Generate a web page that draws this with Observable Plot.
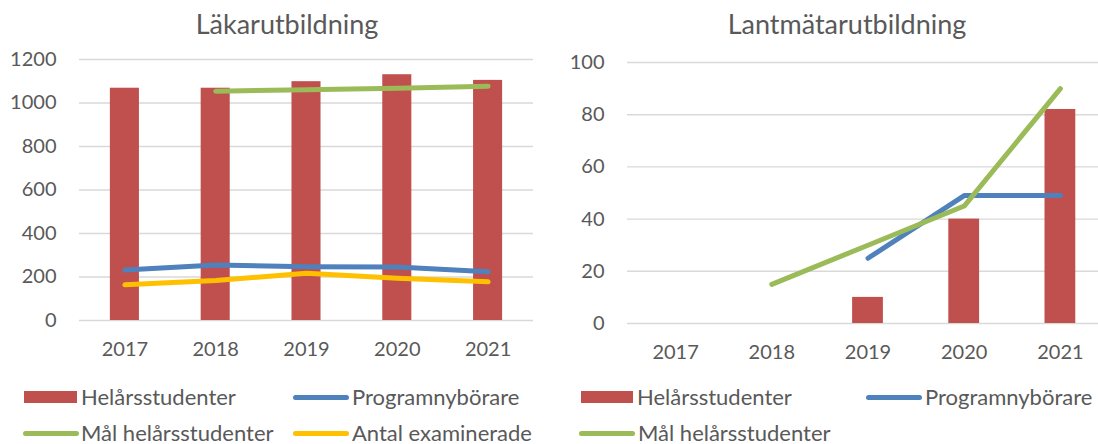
<!DOCTYPE html>
<html>
<head>
<meta charset="utf-8">
<script src="https://cdn.jsdelivr.net/npm/d3@7"></script>
<script src="https://cdn.jsdelivr.net/npm/@observablehq/plot@0.6"></script>
<style>
  html, body { margin: 0; padding: 0; background: #fff; }
  body { width: 1098px; height: 444px; overflow: hidden; position: relative; font-family: Lato, "Open Sans", sans-serif; color: #595959; }
  .panel { position: absolute; top: 0; width: 549px; height: 370px; }
  .title { height: 44px; box-sizing: border-box; padding-top: 6px; line-height: 36px; font-size: 27px; position: relative; white-space: nowrap; }
  .title span { position: absolute; transform: translateX(-50%); }
  .leg { position: absolute; font-size: 22px; line-height: 20px; white-space: nowrap; }
  .sw { position: absolute; }
</style>
</head>
<body>
<script>
// ---- data ----
const years = ["2017", "2018", "2019", "2020", "2021"];

// Läkarutbildning
const lakHelarsstudenter = [1068, 1068, 1098, 1130, 1104];
const lakProgramnyborare = [232, 255, 247, 246, 224];
const lakMalHelarsstudenter = [null, 1054, 1061, 1068, 1077];
const lakAntalExaminerade = [164, 184, 217, 194, 178];
const lakTicks = [0, 200, 400, 600, 800, 1000, 1200];

// Lantmätarutbildning
const lanHelarsstudenter = [null, null, 10, 40, 82];
const lanProgramnyborare = [null, null, 25, 49, 49];
const lanMalHelarsstudenter = [null, 15, 30, 45, 90];
const lanTicks = [0, 20, 40, 60, 80, 100];

const seriesNames = ["Helårsstudenter", "Programnybörare", "Mål helårsstudenter", "Antal examinerade"];
const colors = {
  "Helårsstudenter": "#c0504d",
  "Programnybörare": "#4f81bd",
  "Mål helårsstudenter": "#9bbb59",
  "Antal examinerade": "#ffc000"
};

function toRows(values) {
  return years.map((y, i) => ({year: y, value: values[i]})).filter(d => d.value != null);
}

function makePanel({left, title, titleX, bars, lines, ticks, marginLeft, marginRight, marginTop, marginBottom, xRange, legend}) {
  const panel = document.createElement("div");
  panel.className = "panel";
  panel.style.left = left + "px";
  const t = document.createElement("div");
  t.className = "title";
  const ts = document.createElement("span");
  ts.textContent = title;
  ts.style.left = titleX + "px";
  t.appendChild(ts);
  panel.appendChild(t);

  const marks = [
    Plot.ruleY(ticks, {stroke: "#d9d9d9", strokeWidth: 1.4}),
    Plot.barY(toRows(bars), {x: "year", y: "value", fill: colors["Helårsstudenter"]})
  ];
  for (const [name, vals] of lines) {
    marks.push(Plot.line(toRows(vals), {
      x: "year", y: "value", stroke: colors[name], strokeWidth: 5,
      strokeLinecap: "round", strokeLinejoin: "round"
    }));
  }
  const xOpts = {domain: years, paddingInner: 0.68, paddingOuter: 0.34, round: false, tickSize: 0, tickPadding: 21, label: null};
  if (xRange) xOpts.range = xRange;
  const svg = Plot.plot({
    width: 549,
    height: 326,
    marginLeft, marginRight, marginTop, marginBottom,
    style: {fontSize: "20px", fontFamily: "Lato, 'Open Sans', sans-serif", color: "#595959", background: "transparent", overflow: "visible"},
    x: xOpts,
    y: {domain: [ticks[0], ticks[ticks.length - 1]], ticks: ticks, tickFormat: d => String(d), tickSize: 0, tickPadding: 23, label: null},
    marks
  });
  panel.appendChild(svg);
  document.body.appendChild(panel);

  for (const item of legend) {
    const sw = document.createElement("div");
    sw.className = "sw";
    if (item.name === "Helårsstudenter") {
      Object.assign(sw.style, {left: item.sx + "px", top: (item.y - 6) + "px", width: (item.sw) + "px", height: "12px", background: colors[item.name]});
    } else {
      Object.assign(sw.style, {left: item.sx + "px", top: (item.y - 2.5) + "px", width: (item.sw) + "px", height: "5px", borderRadius: "3px", background: colors[item.name]});
    }
    document.body.appendChild(sw);
    const lab = document.createElement("div");
    lab.className = "leg";
    lab.textContent = item.name;
    Object.assign(lab.style, {left: item.tx + "px", top: (item.y - 10) + "px"});
    document.body.appendChild(lab);
  }
}

makePanel({
  left: 0,
  title: "Läkarutbildning",
  titleX: 287,
  bars: lakHelarsstudenter,
  lines: [
    ["Programnybörare", lakProgramnyborare],
    ["Mål helårsstudenter", lakMalHelarsstudenter],
    ["Antal examinerade", lakAntalExaminerade]
  ],
  ticks: lakTicks,
  marginLeft: 79, marginRight: 16, marginTop: 15, marginBottom: 50,
  legend: [
    {name: seriesNames[0], sx: 24, sw: 53, tx: 81, y: 397},
    {name: seriesNames[1], sx: 293, sw: 56, tx: 352, y: 397},
    {name: seriesNames[2], sx: 23, sw: 56, tx: 81, y: 433},
    {name: seriesNames[3], sx: 293, sw: 56, tx: 352, y: 433}
  ]
});

makePanel({
  left: 549,
  title: "Lantmätarutbildning",
  titleX: 298,
  bars: lanHelarsstudenter,
  lines: [
    ["Programnybörare", lanProgramnyborare],
    ["Mål helårsstudenter", lanMalHelarsstudenter]
  ],
  ticks: lanTicks,
  marginLeft: 78, marginRight: 0, marginTop: 18, marginBottom: 47,
  xRange: [78, 559],
  legend: [
    {name: seriesNames[0], sx: 581, sw: 52, tx: 637, y: 397},
    {name: seriesNames[1], sx: 866, sw: 56, tx: 925, y: 397},
    {name: seriesNames[2], sx: 579, sw: 56, tx: 638, y: 433}
  ]
});
</script>
</body>
</html>
